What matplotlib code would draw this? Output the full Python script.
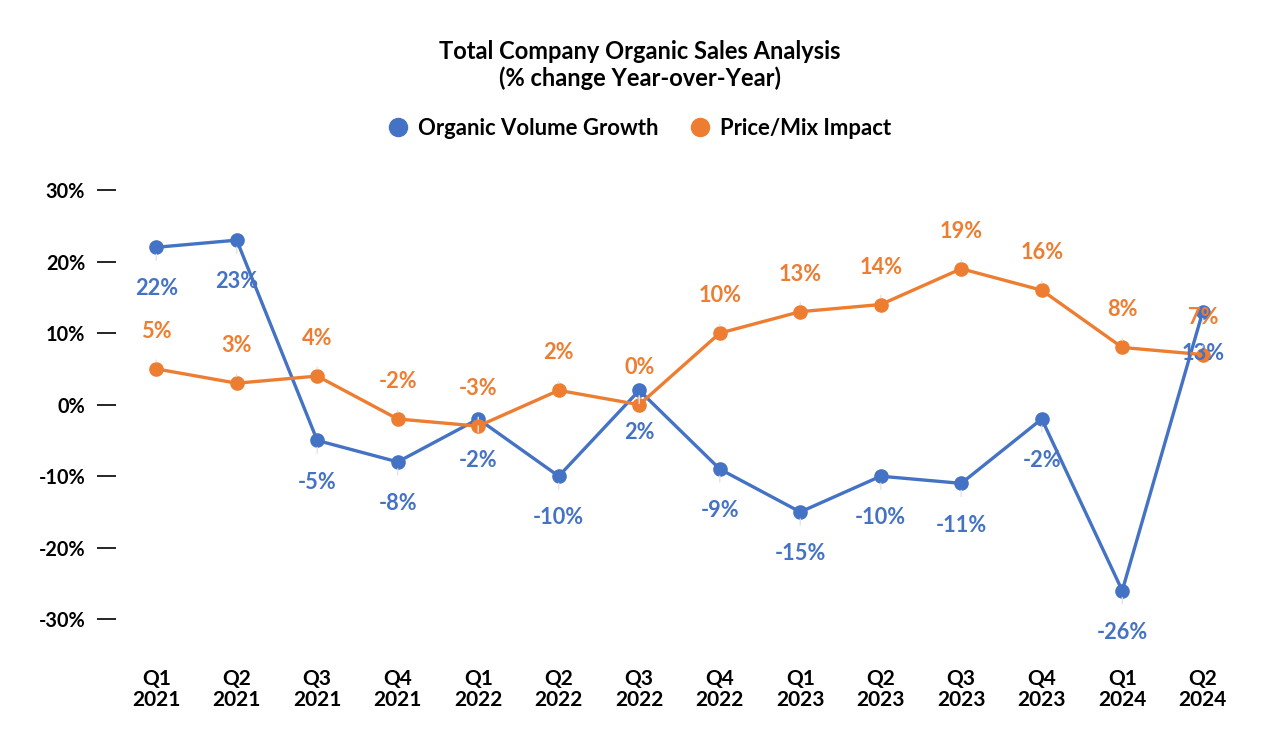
import matplotlib.pyplot as plt

# Data
quarters = ["Q1\n2021", "Q2\n2021", "Q3\n2021", "Q4\n2021",
            "Q1\n2022", "Q2\n2022", "Q3\n2022", "Q4\n2022",
            "Q1\n2023", "Q2\n2023", "Q3\n2023", "Q4\n2023",
            "Q1\n2024", "Q2\n2024"]
volume_growth = [22, 23, -5, -8, -2, -10, 2, -9, -15, -10, -11, -2, -26, 13]
price_mix = [5, 3, 4, -2, -3, 2, 0, 10, 13, 14, 19, 16, 8, 7]
y_ticks = [-30, -20, -10, 0, 10, 20, 30]

BLUE = "#4472C4"
ORANGE = "#ED7D31"

plt.rcParams['font.family'] = ['Lato', 'DejaVu Sans']

fig = plt.figure(figsize=(12.8, 7.5), dpi=100)
ax = fig.add_axes([0.0906, 0.1333, 0.8805, 0.6333])

x = list(range(len(quarters)))
ax.plot(x, volume_growth, color=BLUE, lw=2.4, marker='o', markersize=9.5,
        label="Organic Volume Growth", zorder=3)
ax.plot(x, price_mix, color=ORANGE, lw=2.4, marker='o', markersize=9.5,
        label="Price/Mix Impact", zorder=4)

# data labels with light leader lines
for xi, v in zip(x, volume_growth):
    ax.annotate(f"{v}%", xy=(xi, v), xytext=(0, -30), textcoords='offset points',
                ha='center', va='center', color=BLUE, fontsize=15.7, fontweight='bold',
                zorder=6,
                arrowprops=dict(arrowstyle='-', color='#e3e3e3', lw=1,
                                shrinkA=11, shrinkB=5))
for xi, v in zip(x, price_mix):
    ax.annotate(f"{v}%", xy=(xi, v), xytext=(0, 27), textcoords='offset points',
                ha='center', va='center', color=ORANGE, fontsize=15.7, fontweight='bold',
                zorder=7,
                arrowprops=dict(arrowstyle='-', color='#e3e3e3', lw=1,
                                shrinkA=11, shrinkB=5))

ax.set_xlim(-0.5, len(quarters) - 0.5)
ax.set_ylim(-34.3, 32.1)
ax.set_xticks(x)
ax.set_xticklabels(quarters, fontsize=15, fontweight='bold', linespacing=1.05)
ax.set_yticks(y_ticks)
ax.set_yticklabels([f"{t}%" for t in y_ticks], fontsize=14.3, fontweight='bold')
ax.tick_params(axis='x', length=0, pad=14)
ax.tick_params(axis='y', length=13.7, width=1.2, pad=8.5, color='black')
for s in ax.spines.values():
    s.set_visible(False)

fig.text(0.5, 0.913, "Total Company Organic Sales Analysis\n(% change Year-over-Year)",
         ha='center', va='center', fontsize=17, fontweight='bold', linespacing=1.15)

leg = fig.legend(loc='center', bbox_to_anchor=(0.5, 0.829), ncol=2, frameon=False,
                 prop={'size': 15.9, 'weight': 'bold'}, handlelength=0.8,
                 columnspacing=1.5, handletextpad=0.5)
for h in leg.legend_handles:
    h.set_linestyle('None')
    h.set_markersize(13)

fig.savefig("out.png", dpi=100)
